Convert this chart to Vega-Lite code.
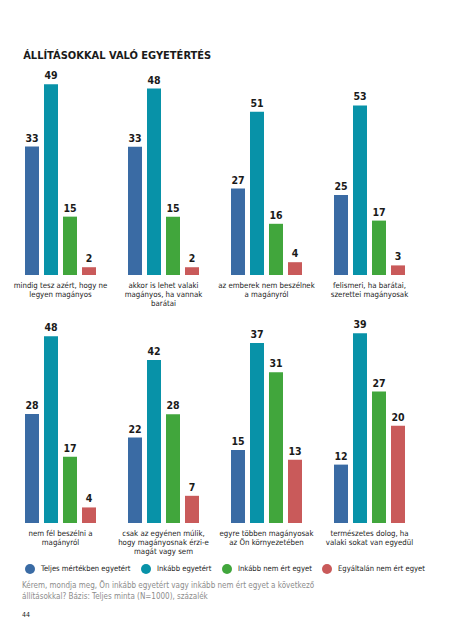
{
  "$schema": "https://vega.github.io/schema/vega-lite/v6.json",
  "padding": {"left": 13, "top": 50, "right": 5, "bottom": 5},
  "background": "white",
  "data": {"values": [
    {"panel": 1, "statement": "mindig tesz azért, hogy ne|legyen magányos", "category": "Teljes mértékben egyetért", "value": 33},
    {"panel": 1, "statement": "mindig tesz azért, hogy ne|legyen magányos", "category": "Inkább egyetért", "value": 49},
    {"panel": 1, "statement": "mindig tesz azért, hogy ne|legyen magányos", "category": "Inkább nem ért egyet", "value": 15},
    {"panel": 1, "statement": "mindig tesz azért, hogy ne|legyen magányos", "category": "Egyáltalán nem ért egyet", "value": 2},
    {"panel": 2, "statement": "akkor is lehet valaki|magányos, ha vannak|barátai", "category": "Teljes mértékben egyetért", "value": 33},
    {"panel": 2, "statement": "akkor is lehet valaki|magányos, ha vannak|barátai", "category": "Inkább egyetért", "value": 48},
    {"panel": 2, "statement": "akkor is lehet valaki|magányos, ha vannak|barátai", "category": "Inkább nem ért egyet", "value": 15},
    {"panel": 2, "statement": "akkor is lehet valaki|magányos, ha vannak|barátai", "category": "Egyáltalán nem ért egyet", "value": 2},
    {"panel": 3, "statement": "az emberek nem beszélnek|a magányról", "category": "Teljes mértékben egyetért", "value": 27},
    {"panel": 3, "statement": "az emberek nem beszélnek|a magányról", "category": "Inkább egyetért", "value": 51},
    {"panel": 3, "statement": "az emberek nem beszélnek|a magányról", "category": "Inkább nem ért egyet", "value": 16},
    {"panel": 3, "statement": "az emberek nem beszélnek|a magányról", "category": "Egyáltalán nem ért egyet", "value": 4},
    {"panel": 4, "statement": "felismeri, ha barátai,|szerettei magányosak", "category": "Teljes mértékben egyetért", "value": 25},
    {"panel": 4, "statement": "felismeri, ha barátai,|szerettei magányosak", "category": "Inkább egyetért", "value": 53},
    {"panel": 4, "statement": "felismeri, ha barátai,|szerettei magányosak", "category": "Inkább nem ért egyet", "value": 17},
    {"panel": 4, "statement": "felismeri, ha barátai,|szerettei magányosak", "category": "Egyáltalán nem ért egyet", "value": 3},
    {"panel": 5, "statement": "nem fél beszélni a|magányról", "category": "Teljes mértékben egyetért", "value": 28},
    {"panel": 5, "statement": "nem fél beszélni a|magányról", "category": "Inkább egyetért", "value": 48},
    {"panel": 5, "statement": "nem fél beszélni a|magányról", "category": "Inkább nem ért egyet", "value": 17},
    {"panel": 5, "statement": "nem fél beszélni a|magányról", "category": "Egyáltalán nem ért egyet", "value": 4},
    {"panel": 6, "statement": "csak az egyénen múlik,|hogy magányosnak érzi-e|magát vagy sem", "category": "Teljes mértékben egyetért", "value": 22},
    {"panel": 6, "statement": "csak az egyénen múlik,|hogy magányosnak érzi-e|magát vagy sem", "category": "Inkább egyetért", "value": 42},
    {"panel": 6, "statement": "csak az egyénen múlik,|hogy magányosnak érzi-e|magát vagy sem", "category": "Inkább nem ért egyet", "value": 28},
    {"panel": 6, "statement": "csak az egyénen múlik,|hogy magányosnak érzi-e|magát vagy sem", "category": "Egyáltalán nem ért egyet", "value": 7},
    {"panel": 7, "statement": "egyre többen magányosak|az Ön környezetében", "category": "Teljes mértékben egyetért", "value": 15},
    {"panel": 7, "statement": "egyre többen magányosak|az Ön környezetében", "category": "Inkább egyetért", "value": 37},
    {"panel": 7, "statement": "egyre többen magányosak|az Ön környezetében", "category": "Inkább nem ért egyet", "value": 31},
    {"panel": 7, "statement": "egyre többen magányosak|az Ön környezetében", "category": "Egyáltalán nem ért egyet", "value": 13},
    {"panel": 8, "statement": "természetes dolog, ha|valaki sokat van egyedül", "category": "Teljes mértékben egyetért", "value": 12},
    {"panel": 8, "statement": "természetes dolog, ha|valaki sokat van egyedül", "category": "Inkább egyetért", "value": 39},
    {"panel": 8, "statement": "természetes dolog, ha|valaki sokat van egyedül", "category": "Inkább nem ért egyet", "value": 27},
    {"panel": 8, "statement": "természetes dolog, ha|valaki sokat van egyedül", "category": "Egyáltalán nem ért egyet", "value": 20}
  ]},
  "title": {
    "text": ["Kérem, mondja meg, Ön inkább egyetért vagy inkább nem ért egyet a következő", "állításokkal? Bázis: Teljes minta (N=1000), százalék"],
    "subtitle": "44",
    "orient": "bottom",
    "anchor": "start",
    "frame": "group",
    "offset": 8,
    "dx": -3,
    "fontSize": 8,
    "fontWeight": "normal",
    "color": "#8c8c8c",
    "lineHeight": 11,
    "subtitleFontSize": 7,
    "subtitleColor": "#222222",
    "subtitlePadding": 10
  },
  "vconcat": [
    {
      "title": {"text": "ÁLLÍTÁSOKKAL VALÓ EGYETÉRTÉS", "anchor": "start", "dx": 10, "fontSize": 11, "fontWeight": "bold", "color": "#1a1a1a", "offset": 10},
      "columns": 4,
      "bounds": "flush",
      "spacing": {"row": 48, "column": 32},
      "concat": [
        {"transform": [{"filter": "datum.panel == 1"}], "width": 71, "height": 200,
         "encoding": {
           "x": {"field": "statement", "type": "nominal", "title": null, "scale": {"paddingInner": 0, "paddingOuter": 0}, "axis": {"labelExpr": "split(datum.label, '|')", "labelAngle": 0, "labelLimit": 200, "labelFontSize": 7.8, "labelLineHeight": 9, "labelColor": "#222222", "labelPadding": 6, "domain": false, "ticks": false, "grid": false}},
           "xOffset": {"field": "category", "type": "nominal", "sort": ["Teljes mértékben egyetért", "Inkább egyetért", "Inkább nem ért egyet", "Egyáltalán nem ért egyet"], "scale": {"paddingInner": 0.263, "paddingOuter": 0}},
           "y": {"field": "value", "type": "quantitative", "scale": {"domain": [0, 51.4]}, "axis": null}},
         "layer": [
           {"mark": {"type": "bar"}, "encoding": {"color": {"field": "category", "type": "nominal", "sort": ["Teljes mértékben egyetért", "Inkább egyetért", "Inkább nem ért egyet", "Egyáltalán nem ért egyet"], "scale": {"domain": ["Teljes mértékben egyetért", "Inkább egyetért", "Inkább nem ért egyet", "Egyáltalán nem ért egyet"], "range": ["#3a6ba4", "#0892a8", "#41a63c", "#c95a5a"]}, "legend": {"title": null, "orient": "bottom", "direction": "horizontal", "gridAlign": "none", "symbolType": "circle", "symbolSize": 100, "symbolStrokeWidth": 0, "labelFontSize": 7.6, "labelColor": "#1a1a1a", "labelOffset": 6, "columnPadding": 10, "offset": 9}}}},
           {"mark": {"type": "text", "baseline": "alphabetic", "dy": -5, "fontWeight": "bold", "fontSize": 10.5, "color": "#1a1a1a"}, "encoding": {"text": {"field": "value"}}}]},
        {"transform": [{"filter": "datum.panel == 2"}], "width": 71, "height": 200,
         "encoding": {
           "x": {"field": "statement", "type": "nominal", "title": null, "scale": {"paddingInner": 0, "paddingOuter": 0}, "axis": {"labelExpr": "split(datum.label, '|')", "labelAngle": 0, "labelLimit": 200, "labelFontSize": 7.8, "labelLineHeight": 9, "labelColor": "#222222", "labelPadding": 6, "domain": false, "ticks": false, "grid": false}},
           "xOffset": {"field": "category", "type": "nominal", "sort": ["Teljes mértékben egyetért", "Inkább egyetért", "Inkább nem ért egyet", "Egyáltalán nem ért egyet"], "scale": {"paddingInner": 0.263, "paddingOuter": 0}},
           "y": {"field": "value", "type": "quantitative", "scale": {"domain": [0, 51.5]}, "axis": null}},
         "layer": [
           {"mark": {"type": "bar"}, "encoding": {"color": {"field": "category", "type": "nominal", "sort": ["Teljes mértékben egyetért", "Inkább egyetért", "Inkább nem ért egyet", "Egyáltalán nem ért egyet"], "scale": {"domain": ["Teljes mértékben egyetért", "Inkább egyetért", "Inkább nem ért egyet", "Egyáltalán nem ért egyet"], "range": ["#3a6ba4", "#0892a8", "#41a63c", "#c95a5a"]}, "legend": {"title": null, "orient": "bottom", "direction": "horizontal", "gridAlign": "none", "symbolType": "circle", "symbolSize": 100, "symbolStrokeWidth": 0, "labelFontSize": 7.6, "labelColor": "#1a1a1a", "labelOffset": 6, "columnPadding": 10, "offset": 9}}}},
           {"mark": {"type": "text", "baseline": "alphabetic", "dy": -5, "fontWeight": "bold", "fontSize": 10.5, "color": "#1a1a1a"}, "encoding": {"text": {"field": "value"}}}]},
        {"transform": [{"filter": "datum.panel == 3"}], "width": 71, "height": 200,
         "encoding": {
           "x": {"field": "statement", "type": "nominal", "title": null, "scale": {"paddingInner": 0, "paddingOuter": 0}, "axis": {"labelExpr": "split(datum.label, '|')", "labelAngle": 0, "labelLimit": 200, "labelFontSize": 7.8, "labelLineHeight": 9, "labelColor": "#222222", "labelPadding": 6, "domain": false, "ticks": false, "grid": false}},
           "xOffset": {"field": "category", "type": "nominal", "sort": ["Teljes mértékben egyetért", "Inkább egyetért", "Inkább nem ért egyet", "Egyáltalán nem ért egyet"], "scale": {"paddingInner": 0.263, "paddingOuter": 0}},
           "y": {"field": "value", "type": "quantitative", "scale": {"domain": [0, 62.5]}, "axis": null}},
         "layer": [
           {"mark": {"type": "bar"}, "encoding": {"color": {"field": "category", "type": "nominal", "sort": ["Teljes mértékben egyetért", "Inkább egyetért", "Inkább nem ért egyet", "Egyáltalán nem ért egyet"], "scale": {"domain": ["Teljes mértékben egyetért", "Inkább egyetért", "Inkább nem ért egyet", "Egyáltalán nem ért egyet"], "range": ["#3a6ba4", "#0892a8", "#41a63c", "#c95a5a"]}, "legend": {"title": null, "orient": "bottom", "direction": "horizontal", "gridAlign": "none", "symbolType": "circle", "symbolSize": 100, "symbolStrokeWidth": 0, "labelFontSize": 7.6, "labelColor": "#1a1a1a", "labelOffset": 6, "columnPadding": 10, "offset": 9}}}},
           {"mark": {"type": "text", "baseline": "alphabetic", "dy": -5, "fontWeight": "bold", "fontSize": 10.5, "color": "#1a1a1a"}, "encoding": {"text": {"field": "value"}}}]},
        {"transform": [{"filter": "datum.panel == 4"}], "width": 71, "height": 200,
         "encoding": {
           "x": {"field": "statement", "type": "nominal", "title": null, "scale": {"paddingInner": 0, "paddingOuter": 0}, "axis": {"labelExpr": "split(datum.label, '|')", "labelAngle": 0, "labelLimit": 200, "labelFontSize": 7.8, "labelLineHeight": 9, "labelColor": "#222222", "labelPadding": 6, "domain": false, "ticks": false, "grid": false}},
           "xOffset": {"field": "category", "type": "nominal", "sort": ["Teljes mértékben egyetért", "Inkább egyetért", "Inkább nem ért egyet", "Egyáltalán nem ért egyet"], "scale": {"paddingInner": 0.263, "paddingOuter": 0}},
           "y": {"field": "value", "type": "quantitative", "scale": {"domain": [0, 62.5]}, "axis": null}},
         "layer": [
           {"mark": {"type": "bar"}, "encoding": {"color": {"field": "category", "type": "nominal", "sort": ["Teljes mértékben egyetért", "Inkább egyetért", "Inkább nem ért egyet", "Egyáltalán nem ért egyet"], "scale": {"domain": ["Teljes mértékben egyetért", "Inkább egyetért", "Inkább nem ért egyet", "Egyáltalán nem ért egyet"], "range": ["#3a6ba4", "#0892a8", "#41a63c", "#c95a5a"]}, "legend": {"title": null, "orient": "bottom", "direction": "horizontal", "gridAlign": "none", "symbolType": "circle", "symbolSize": 100, "symbolStrokeWidth": 0, "labelFontSize": 7.6, "labelColor": "#1a1a1a", "labelOffset": 6, "columnPadding": 10, "offset": 9}}}},
           {"mark": {"type": "text", "baseline": "alphabetic", "dy": -5, "fontWeight": "bold", "fontSize": 10.5, "color": "#1a1a1a"}, "encoding": {"text": {"field": "value"}}}]},
        {"transform": [{"filter": "datum.panel == 5"}], "width": 71, "height": 200,
         "encoding": {
           "x": {"field": "statement", "type": "nominal", "title": null, "scale": {"paddingInner": 0, "paddingOuter": 0}, "axis": {"labelExpr": "split(datum.label, '|')", "labelAngle": 0, "labelLimit": 200, "labelFontSize": 7.8, "labelLineHeight": 9, "labelColor": "#222222", "labelPadding": 6, "domain": false, "ticks": false, "grid": false}},
           "xOffset": {"field": "category", "type": "nominal", "sort": ["Teljes mértékben egyetért", "Inkább egyetért", "Inkább nem ért egyet", "Egyáltalán nem ért egyet"], "scale": {"paddingInner": 0.263, "paddingOuter": 0}},
           "y": {"field": "value", "type": "quantitative", "scale": {"domain": [0, 51.4]}, "axis": null}},
         "layer": [
           {"mark": {"type": "bar"}, "encoding": {"color": {"field": "category", "type": "nominal", "sort": ["Teljes mértékben egyetért", "Inkább egyetért", "Inkább nem ért egyet", "Egyáltalán nem ért egyet"], "scale": {"domain": ["Teljes mértékben egyetért", "Inkább egyetért", "Inkább nem ért egyet", "Egyáltalán nem ért egyet"], "range": ["#3a6ba4", "#0892a8", "#41a63c", "#c95a5a"]}, "legend": {"title": null, "orient": "bottom", "direction": "horizontal", "gridAlign": "none", "symbolType": "circle", "symbolSize": 100, "symbolStrokeWidth": 0, "labelFontSize": 7.6, "labelColor": "#1a1a1a", "labelOffset": 6, "columnPadding": 10, "offset": 9}}}},
           {"mark": {"type": "text", "baseline": "alphabetic", "dy": -5, "fontWeight": "bold", "fontSize": 10.5, "color": "#1a1a1a"}, "encoding": {"text": {"field": "value"}}}]},
        {"transform": [{"filter": "datum.panel == 6"}], "width": 71, "height": 200,
         "encoding": {
           "x": {"field": "statement", "type": "nominal", "title": null, "scale": {"paddingInner": 0, "paddingOuter": 0}, "axis": {"labelExpr": "split(datum.label, '|')", "labelAngle": 0, "labelLimit": 200, "labelFontSize": 7.8, "labelLineHeight": 9, "labelColor": "#222222", "labelPadding": 6, "domain": false, "ticks": false, "grid": false}},
           "xOffset": {"field": "category", "type": "nominal", "sort": ["Teljes mértékben egyetért", "Inkább egyetért", "Inkább nem ért egyet", "Egyáltalán nem ért egyet"], "scale": {"paddingInner": 0.263, "paddingOuter": 0}},
           "y": {"field": "value", "type": "quantitative", "scale": {"domain": [0, 51.5]}, "axis": null}},
         "layer": [
           {"mark": {"type": "bar"}, "encoding": {"color": {"field": "category", "type": "nominal", "sort": ["Teljes mértékben egyetért", "Inkább egyetért", "Inkább nem ért egyet", "Egyáltalán nem ért egyet"], "scale": {"domain": ["Teljes mértékben egyetért", "Inkább egyetért", "Inkább nem ért egyet", "Egyáltalán nem ért egyet"], "range": ["#3a6ba4", "#0892a8", "#41a63c", "#c95a5a"]}, "legend": {"title": null, "orient": "bottom", "direction": "horizontal", "gridAlign": "none", "symbolType": "circle", "symbolSize": 100, "symbolStrokeWidth": 0, "labelFontSize": 7.6, "labelColor": "#1a1a1a", "labelOffset": 6, "columnPadding": 10, "offset": 9}}}},
           {"mark": {"type": "text", "baseline": "alphabetic", "dy": -5, "fontWeight": "bold", "fontSize": 10.5, "color": "#1a1a1a"}, "encoding": {"text": {"field": "value"}}}]},
        {"transform": [{"filter": "datum.panel == 7"}], "width": 71, "height": 200,
         "encoding": {
           "x": {"field": "statement", "type": "nominal", "title": null, "scale": {"paddingInner": 0, "paddingOuter": 0}, "axis": {"labelExpr": "split(datum.label, '|')", "labelAngle": 0, "labelLimit": 200, "labelFontSize": 7.8, "labelLineHeight": 9, "labelColor": "#222222", "labelPadding": 6, "domain": false, "ticks": false, "grid": false}},
           "xOffset": {"field": "category", "type": "nominal", "sort": ["Teljes mértékben egyetért", "Inkább egyetért", "Inkább nem ért egyet", "Egyáltalán nem ért egyet"], "scale": {"paddingInner": 0.263, "paddingOuter": 0}},
           "y": {"field": "value", "type": "quantitative", "scale": {"domain": [0, 41.1]}, "axis": null}},
         "layer": [
           {"mark": {"type": "bar"}, "encoding": {"color": {"field": "category", "type": "nominal", "sort": ["Teljes mértékben egyetért", "Inkább egyetért", "Inkább nem ért egyet", "Egyáltalán nem ért egyet"], "scale": {"domain": ["Teljes mértékben egyetért", "Inkább egyetért", "Inkább nem ért egyet", "Egyáltalán nem ért egyet"], "range": ["#3a6ba4", "#0892a8", "#41a63c", "#c95a5a"]}, "legend": {"title": null, "orient": "bottom", "direction": "horizontal", "gridAlign": "none", "symbolType": "circle", "symbolSize": 100, "symbolStrokeWidth": 0, "labelFontSize": 7.6, "labelColor": "#1a1a1a", "labelOffset": 6, "columnPadding": 10, "offset": 9}}}},
           {"mark": {"type": "text", "baseline": "alphabetic", "dy": -5, "fontWeight": "bold", "fontSize": 10.5, "color": "#1a1a1a"}, "encoding": {"text": {"field": "value"}}}]},
        {"transform": [{"filter": "datum.panel == 8"}], "width": 71, "height": 200,
         "encoding": {
           "x": {"field": "statement", "type": "nominal", "title": null, "scale": {"paddingInner": 0, "paddingOuter": 0}, "axis": {"labelExpr": "split(datum.label, '|')", "labelAngle": 0, "labelLimit": 200, "labelFontSize": 7.8, "labelLineHeight": 9, "labelColor": "#222222", "labelPadding": 6, "domain": false, "ticks": false, "grid": false}},
           "xOffset": {"field": "category", "type": "nominal", "sort": ["Teljes mértékben egyetért", "Inkább egyetért", "Inkább nem ért egyet", "Egyáltalán nem ért egyet"], "scale": {"paddingInner": 0.263, "paddingOuter": 0}},
           "y": {"field": "value", "type": "quantitative", "scale": {"domain": [0, 41.1]}, "axis": null}},
         "layer": [
           {"mark": {"type": "bar"}, "encoding": {"color": {"field": "category", "type": "nominal", "sort": ["Teljes mértékben egyetért", "Inkább egyetért", "Inkább nem ért egyet", "Egyáltalán nem ért egyet"], "scale": {"domain": ["Teljes mértékben egyetért", "Inkább egyetért", "Inkább nem ért egyet", "Egyáltalán nem ért egyet"], "range": ["#3a6ba4", "#0892a8", "#41a63c", "#c95a5a"]}, "legend": {"title": null, "orient": "bottom", "direction": "horizontal", "gridAlign": "none", "symbolType": "circle", "symbolSize": 100, "symbolStrokeWidth": 0, "labelFontSize": 7.6, "labelColor": "#1a1a1a", "labelOffset": 6, "columnPadding": 10, "offset": 9}}}},
           {"mark": {"type": "text", "baseline": "alphabetic", "dy": -5, "fontWeight": "bold", "fontSize": 10.5, "color": "#1a1a1a"}, "encoding": {"text": {"field": "value"}}}]}
      ]
    }
  ],
  "config": {
    "font": "DejaVu Sans Condensed",
    "view": {"stroke": null},
    "title": {"font": "DejaVu Sans Condensed"}
  }
}
